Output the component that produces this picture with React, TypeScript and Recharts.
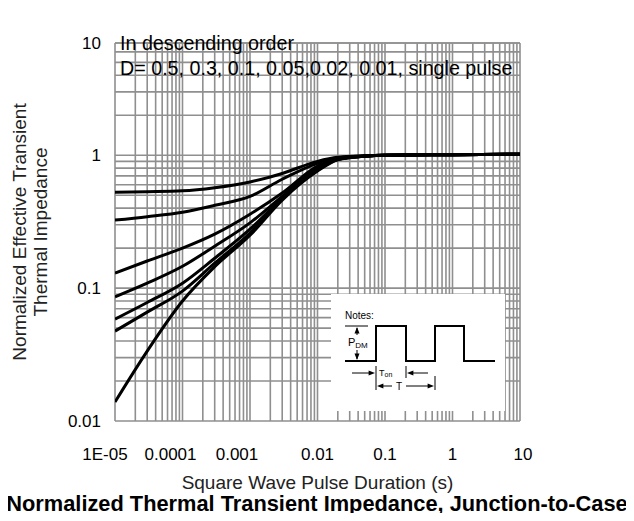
import React from 'react';
import { LineChart, Line, XAxis, YAxis, ReferenceLine } from 'recharts';

// pulse duration (s) and normalized Zth per duty cycle
const pulseDuration = [1e-5, 3e-5, 1e-4, 3e-4, 1e-3, 3e-3, 1e-2, 2e-2, 5e-2, 0.1, 1, 10];
const zthD05 = [0.527, 0.532, 0.54, 0.57, 0.63, 0.73, 0.9, 0.965, 0.99, 1.0, 1.01, 1.02];
const zthD03 = [0.325, 0.345, 0.373, 0.42, 0.49, 0.66, 0.87, 0.955, 0.99, 1.0, 1.01, 1.02];
const zthD01 = [0.13, 0.16, 0.2, 0.255, 0.36, 0.52, 0.83, 0.945, 0.985, 1.0, 1.01, 1.02];
const zthD005 = [0.086, 0.109, 0.146, 0.207, 0.31, 0.49, 0.8, 0.94, 0.985, 1.0, 1.01, 1.02];
const zthD002 = [0.0585, 0.078, 0.109, 0.168, 0.278, 0.475, 0.785, 0.935, 0.985, 1.0, 1.01, 1.02];
const zthD001 = [0.0475, 0.066, 0.095, 0.154, 0.26, 0.47, 0.77, 0.93, 0.985, 1.0, 1.01, 1.02];
const zthSingle = [0.0139, 0.0336, 0.08, 0.145, 0.25, 0.46, 0.76, 0.925, 0.985, 1.0, 1.01, 1.02];

const xTicks = [1e-5, 1e-4, 1e-3, 1e-2, 1e-1, 1, 10];
const xTickLabels = ['1E-05', '0.0001', '0.001', '0.01', '0.1', '1', '10'];
const yTicks = [0.01, 0.1, 1, 7];
const yTickLabels = ['0.01', '0.1', '1', '10'];

const seriesKeys = ['d05', 'd03', 'd01', 'd005', 'd002', 'd001', 'single'];
const seriesValues = [zthD05, zthD03, zthD01, zthD005, zthD002, zthD001, zthSingle];

const data = pulseDuration.map((t, i) => {
  const row: Record<string, number> = { t };
  seriesKeys.forEach((k, j) => (row[k] = seriesValues[j][i]));
  return row;
});

// log grid: 1..9 in each decade
const mults = [1, 2, 3, 4, 5, 6, 7, 8, 9];
const xGrid = [1e-5, 1e-4, 1e-3, 1e-2, 1e-1, 1].flatMap(d => mults.map(m => m * d)).concat([10]);
const yGrid = [0.01, 0.1, 1].flatMap(d => mults.map(m => m * d)).filter(v => v <= 7);

const FONT = 'Arial, "Liberation Sans", Helvetica, sans-serif';
const GRID = '#8f8f8f';

// the first few labels sit a bit left of their decade line in the original
const xLabelShift = [-10, -12, -13, 0, 0, 0, 3];

const XTick = (props: any) => {
  const { x, y, payload } = props;
  const i = xTicks.indexOf(payload.value);
  return (
    <text x={x + xLabelShift[i]} y={y + 31} textAnchor="middle" fontSize={17} fontFamily={FONT} fill="#000">
      {xTickLabels[i]}
    </text>
  );
};

const YTick = (props: any) => {
  const { x, y, payload } = props;
  const i = yTicks.indexOf(payload.value);
  return (
    <text x={x - 6} y={y} dy={6} textAnchor="end" fontSize={17} fontFamily={FONT} fill="#000">
      {yTickLabels[i]}
    </text>
  );
};

const Arrow = ({ x, y, dir }: { x: number; y: number; dir: 'l' | 'r' | 'u' | 'd' }) => {
  const s = 4;
  let pts = '';
  if (dir === 'r') pts = `${x},${y} ${x - s * 1.6},${y - s / 1.6} ${x - s * 1.6},${y + s / 1.6}`;
  if (dir === 'l') pts = `${x},${y} ${x + s * 1.6},${y - s / 1.6} ${x + s * 1.6},${y + s / 1.6}`;
  if (dir === 'u') pts = `${x},${y} ${x - s / 1.6},${y + s * 1.6} ${x + s / 1.6},${y + s * 1.6}`;
  if (dir === 'd') pts = `${x},${y} ${x - s / 1.6},${y - s * 1.6} ${x + s / 1.6},${y - s * 1.6}`;
  return <polygon points={pts} fill="#000" />;
};

const Overlay = () => (
  <svg width={634} height={521} style={{ position: 'absolute', left: 0, top: 0, pointerEvents: 'none' }}>
    <g fontFamily={FONT} fill="#000">
      <text x={120} y={50} fontSize={19.7}>In descending order</text>
      <text x={120} y={75} fontSize={19.7}>D= 0.5, 0.3, 0.1, 0.05,0.02, 0.01, single pulse</text>
    </g>
    <rect x={331} y={294} width={174} height={117} fill="#fff" />
    <g fontFamily={FONT} fill="#000" stroke="none">
      <text x={345} y={319} fontSize={10}>Notes:</text>
      <text x={348} y={346} fontSize={11}>P<tspan fontSize={8} dy={2}>DM</tspan></text>
      <text x={379} y={376} fontSize={9}>T<tspan fontSize={7} dy={1}>on</tspan></text>
      <text x={396} y={390} fontSize={10}>T</text>
    </g>
    <g stroke="#000" fill="none">
      <polyline
        points="345,361 376,361 376,326 406,326 406,361 435,361 435,326 464,326 464,361 495,361"
        strokeWidth={2}
      />
      <line x1={345} y1={326} x2={368} y2={326} strokeWidth={1} />
      <line x1={357} y1={328} x2={357} y2={335} strokeWidth={1} />
      <line x1={357} y1={350} x2={357} y2={359} strokeWidth={1} />
      <line x1={352} y1={373} x2={372} y2={373} strokeWidth={1} />
      <line x1={410} y1={373} x2={428} y2={373} strokeWidth={1} />
      <line x1={380} y1={386} x2={392} y2={386} strokeWidth={1} />
      <line x1={406} y1={386} x2={431} y2={386} strokeWidth={1} />
      <line x1={376} y1={366} x2={376} y2={390} strokeWidth={1} />
      <line x1={406} y1={366} x2={406} y2={378} strokeWidth={1} />
      <line x1={435} y1={376} x2={435} y2={390} strokeWidth={1} />
    </g>
    <Arrow x={357} y={327} dir="u" />
    <Arrow x={357} y={360} dir="d" />
    <Arrow x={375} y={373} dir="r" />
    <Arrow x={407} y={373} dir="l" />
    <Arrow x={377} y={386} dir="l" />
    <Arrow x={434} y={386} dir="r" />
    <text
      x={317}
      y={511}
      textAnchor="middle"
      fontSize={21.8}
      fontWeight="bold"
      fontFamily={FONT}
      fill="#000"
    >
      Normalized Thermal Transient Impedance, Junction-to-Case
    </text>
  </svg>
);

export default function App() {
  return (
    <div style={{ position: 'relative', width: 634, height: 521, margin: -8, background: '#fff' }}>
      <LineChart width={634} height={521} data={data} margin={{ top: 43, right: 114, bottom: 0, left: 0 }}>
        <XAxis
          dataKey="t"
          type="number"
          scale="log"
          domain={[1e-5, 10]}
          ticks={xTicks}
          tick={<XTick />}
          tickLine={false}
          axisLine={false}
          height={100}
          allowDataOverflow
          label={{
            content: (p: any) => {
              const vb = p.viewBox || {};
              return (
                <text
                  x={vb.x + vb.width / 2}
                  y={vb.y + 68}
                  textAnchor="middle"
                  fontSize={19}
                  fontFamily={FONT}
                  fill="#222"
                >
                  Square Wave Pulse Duration (s)
                </text>
              );
            },
          }}
        />
        <YAxis
          type="number"
          scale="log"
          domain={[0.01, 7]}
          ticks={yTicks}
          tick={<YTick />}
          tickLine={false}
          axisLine={false}
          width={115}
          allowDataOverflow
          label={{
            content: (p: any) => {
              const vb = p.viewBox || {};
              const cy = vb.y + vb.height / 2;
              return (
                <g fontSize={19} fontFamily={FONT} fill="#222">
                  <text x={19} y={cy} textAnchor="middle" dominantBaseline="central" transform={`rotate(-90, 19, ${cy})`}>
                    Normalized Effective Transient
                  </text>
                  <text x={40} y={cy} textAnchor="middle" dominantBaseline="central" transform={`rotate(-90, 40, ${cy})`}>
                    Thermal Impedance
                  </text>
                </g>
              );
            },
          }}
        />
        {xGrid.map(v => (
          <ReferenceLine key={`gx-${v}`} x={v} stroke={GRID} strokeWidth={1.6} ifOverflow="visible" />
        ))}
        {yGrid.concat([7]).map(v => (
          <ReferenceLine key={`gy-${v}`} y={v} stroke={GRID} strokeWidth={1.6} ifOverflow="visible" />
        ))}
        {seriesKeys.map(k => (
          <Line
            key={k}
            dataKey={k}
            type="monotone"
            stroke="#000"
            strokeWidth={3}
            dot={false}
            activeDot={false}
            isAnimationActive={false}
          />
        ))}
      </LineChart>
      <Overlay />
    </div>
  );
}
